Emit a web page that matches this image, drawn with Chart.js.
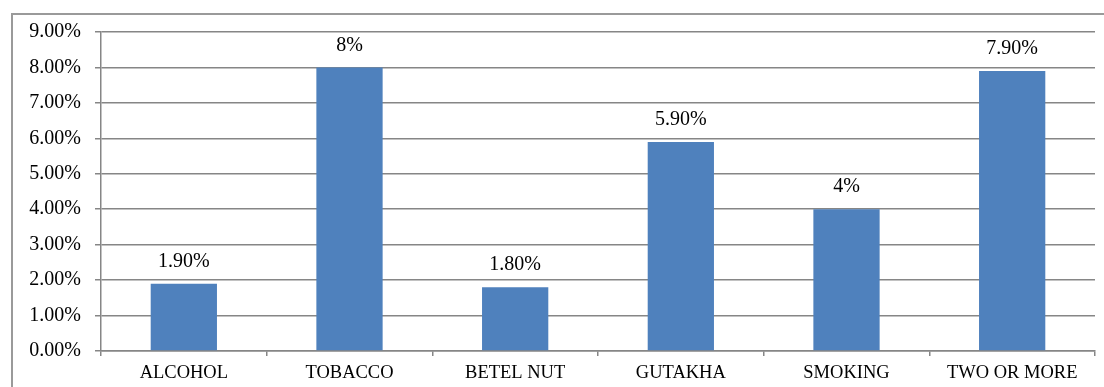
<!DOCTYPE html>
<html>
<head>
<meta charset="utf-8">
<script src="https://cdn.jsdelivr.net/npm/chart.js@4/dist/chart.umd.min.js"></script>
<style>
  html, body { margin: 0; padding: 0; background: #fff; }
  #wrap { width: 1104px; height: 387px; }
</style>
</head>
<body>
<div id="wrap"><canvas id="habitChart" width="1104" height="387"></canvas></div>
<script>
const categories = ['ALCOHOL', 'TOBACCO', 'BETEL NUT', 'GUTAKHA', 'SMOKING', 'TWO OR MORE'];
const values = [1.9, 8, 1.8, 5.9, 4, 7.9];
const valueLabels = ['1.90%', '8%', '1.80%', '5.90%', '4%', '7.90%'];
const yMin = 0, yMax = 9, yStep = 1;

const serif = '"Liberation Serif", "Times New Roman", serif';
const lineGray = '#868686';

// frame around the whole figure (left and top edges show in the picture)
const framePlugin = {
    id: 'frame',
    beforeDraw(chart) {
        const ctx = chart.ctx;
        ctx.save();
        ctx.strokeStyle = '#9a9a9a';
        ctx.lineWidth = 2;
        ctx.beginPath();
        ctx.moveTo(12, chart.height + 2);
        ctx.lineTo(12, 14);
        ctx.lineTo(chart.width + 2, 14);
        ctx.stroke();
        ctx.restore();
    }
};

// value text above each bar
const valueLabelPlugin = {
    id: 'valueLabels',
    afterDatasetsDraw(chart) {
        const ctx = chart.ctx;
        const meta = chart.getDatasetMeta(0);
        ctx.save();
        ctx.font = '20px ' + serif;
        ctx.fillStyle = '#000';
        ctx.textAlign = 'center';
        ctx.textBaseline = 'middle';
        meta.data.forEach((bar, i) => {
            ctx.fillText(valueLabels[i], bar.x, bar.y - 22);
        });
        ctx.restore();
    }
};

new Chart(document.getElementById('habitChart'), {
    type: 'bar',
    data: {
        labels: categories,
        datasets: [{
            data: values,
            backgroundColor: '#4F81BD',
            borderWidth: 0,
            categoryPercentage: 0.8,
            barPercentage: 0.5
        }]
    },
    options: {
        responsive: false,
        animation: false,
        layout: { padding: { top: 32, right: 9, left: 0, bottom: 0 } },
        plugins: { legend: { display: false }, tooltip: { enabled: false } },
        scales: {
            x: {
                grid: { drawOnChartArea: false, drawTicks: true, tickLength: 5, offset: true, color: lineGray, lineWidth: 1.5 },
                border: { color: lineGray, width: 1.5 },
                ticks: { color: '#000', font: { family: serif, size: 18.5 }, padding: 6, maxRotation: 0 },
                afterFit(scale) { scale.height = 36; }
            },
            y: {
                min: yMin,
                max: yMax,
                grid: { color: lineGray, lineWidth: 1.5, tickLength: 6 },
                border: { color: lineGray, width: 1.5 },
                ticks: {
                    stepSize: yStep,
                    color: '#000',
                    font: { family: serif, size: 20 },
                    padding: 14,
                    callback: v => v.toFixed(2) + '%'
                },
                afterFit(scale) { scale.width = 101; }
            }
        }
    },
    plugins: [framePlugin, valueLabelPlugin]
});
</script>
</body>
</html>
